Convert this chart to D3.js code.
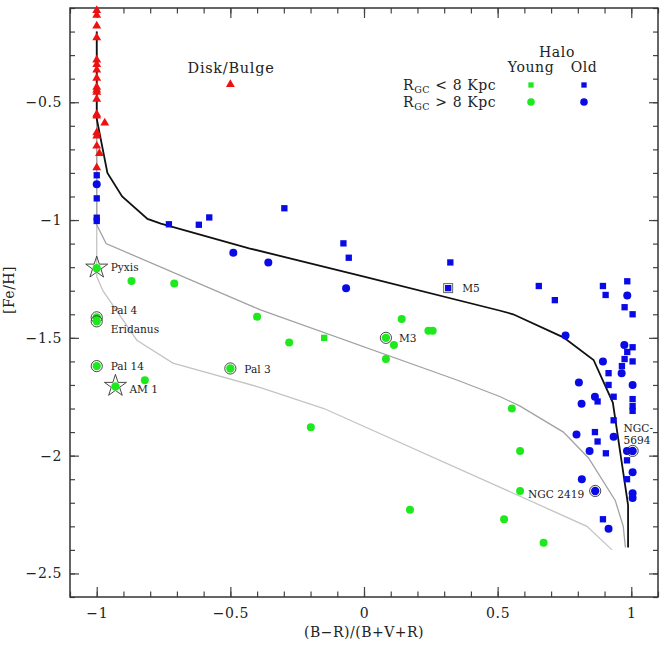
<!DOCTYPE html>
<html>
<head>
<meta charset="utf-8">
<style>
    body { margin: 0; background: #fff; }
    svg text { font-family: "DejaVu Serif", serif; fill: #222; }
    .tick text { font-size: 14px; letter-spacing: 0.6px; }
    .lbl { font-size: 10.6px; }
</style>
<script src="https://d3js.org/d3.v7.min.js"></script>
</head>
<body>
<svg width="666" height="645"></svg>
<script>
// tick values
var xTicks = [-1, -0.5, 0, 0.5, 1];
var yTicks = [-2.5, -2, -1.5, -1, -0.5];

// disk / bulge clusters (red triangles)
var diskBulge = [[-1,-0.11],[-1,-0.13],[-1,-0.176],[-1,-0.226],[-1,-0.32],[-1,-0.34],[-1,-0.363],
    [-1,-0.398],[-1,-0.436],[-1,-0.448],[-1,-0.457],[-1,-0.487],[-1,-0.551],[-1,-0.558],[-0.97,-0.588],
    [-1,-0.629],[-1,-0.643],[-1,-0.686],[-0.99,-0.717],[-1,-0.778],[-0.50,-0.424]];

// old halo, Rgc < 8 kpc (blue squares)
var oldInner = [[-1,-0.81],[-1,-0.908],[-1,-0.99],[-1,-1.004],[-0.73,-1.018],[-0.618,-1.02],[-0.579,-0.989],
    [-0.298,-0.95],[-0.077,-1.099],[-0.057,-1.16],[0.323,-1.18],[0.654,-1.28],[0.714,-1.34],[0.894,-1.28],
    [0.904,-1.318],[0.985,-1.26],[0.975,-1.37],[1.005,-1.40],[1.005,-1.54],[0.985,-1.56],[0.975,-1.59],
    [1.005,-1.60],[0.965,-1.62],[0.915,-1.65],[0.915,-1.70],[0.874,-1.77],[0.934,-1.75],[1.005,-1.76],
    [1.005,-1.79],[1.005,-1.81],[0.934,-1.85],[0.864,-1.90],[0.874,-1.94],[0.905,-1.99],[0.984,-2.02],
    [0.984,-2.10],[0.894,-2.27]];

// old halo, Rgc > 8 kpc (blue circles)
var oldOuter = [[-1,-0.848],[-0.489,-1.139],[-0.358,-1.18],[-0.067,-1.29],[0.985,-1.32],[0.754,-1.49],
    [0.974,-1.53],[0.894,-1.60],[0.964,-1.65],[0.804,-1.69],[1.005,-1.70],[0.864,-1.75],[0.814,-1.78],
    [0.795,-1.91],[0.934,-1.92],[0.844,-1.98],[0.984,-1.98],[1.005,-2.07],[0.815,-2.10],[1.005,-2.16],
    [1.005,-2.18],[0.915,-2.31]];

// young halo, Rgc < 8 kpc (green squares)
var youngInner = [[-0.149,-1.50]];

// young halo, Rgc > 8 kpc (green circles)
var youngOuter = [[-0.87,-1.259],[-0.71,-1.269],[-0.40,-1.41],[-0.82,-1.68],[-0.28,-1.52],[0.141,-1.42],
    [0.112,-1.53],[0.082,-1.59],[0.241,-1.47],[0.257,-1.47],[-0.199,-1.88],[0.553,-1.80],[0.584,-1.98],
    [0.584,-2.15],[0.172,-2.23],[0.524,-2.27],[0.672,-2.37]];

// named clusters
var named = [
    {name: "Pyxis",    x: -1,    y: -1.198, pop: "young", mark: "star"},
    {name: "AM 1",     x: -0.93, y: -1.70,  pop: "young", mark: "star"},
    {name: "Pal 4",    x: -1,    y: -1.413, pop: "young", mark: "ring"},
    {name: "Eridanus", x: -1,    y: -1.43,  pop: "young", mark: "ring"},
    {name: "Pal 14",   x: -1,    y: -1.62,  pop: "young", mark: "ring"},
    {name: "Pal 3",    x: -0.50, y: -1.63,  pop: "young", mark: "ring"},
    {name: "M3",       x: 0.082, y: -1.50,  pop: "young", mark: "ring"},
    {name: "M5",       x: 0.315, y: -1.289, pop: "old",   mark: "box"},
    {name: "NGC 2419", x: 0.865, y: -2.15,  pop: "old",   mark: "ring"},
    {name: "NGC-5694", x: 1.005, y: -1.98,  pop: "old",   mark: "ring"}
];

// model tracks
var blackTrack = [[-1,-0.20],[-1,-0.57],[-0.96,-0.80],[-0.905,-0.90],[-0.81,-0.995],[-0.76,-1.015],
    [-0.43,-1.12],[0,-1.24],[0.51,-1.385],[0.558,-1.40],[0.746,-1.498],[0.859,-1.594],[0.931,-1.775],
    [0.988,-2.21],[0.988,-2.39]];
var grayTrack1 = [[-1,-0.20],[-1,-1.02],[-0.965,-1.10],[-0.39,-1.38],[0.35,-1.68],[0.51,-1.75],
    [0.584,-1.79],[0.746,-1.90],[0.84,-2.01],[0.94,-2.19],[0.97,-2.30],[0.978,-2.39]];
var grayTrack2 = [[-1,-0.20],[-1,-1.24],[-0.977,-1.30],[-0.85,-1.51],[-0.715,-1.607],[-0.39,-1.71],
    [-0.15,-1.80],[0.697,-2.23],[0.834,-2.30],[0.928,-2.40]];

var svg = d3.select("svg");
var mLeft = 70, mRight = 658, mTop = 8, mBottom = 597;

var x = d3.scaleLinear().domain([-1.1, 1.1]).range([mLeft, mRight]);
var y = d3.scaleLinear().domain([-2.6, -0.1]).range([mBottom, mTop]);

var green = "#1de91d", blue = "#0a0ae6", red = "#ee1111";

// axes: major + minor ticks, on all four sides
var minorX = d3.range(-11, 12).map(function(d) { return d / 10; });
var minorY = d3.range(-26, 0).map(function(d) { return d / 10; });
var fmt = d3.format("~g");

function addAxis(axis, tr, noLabels) {
    var g = svg.append("g").attr("transform", tr).call(axis);
    g.select(".domain").remove();
    g.selectAll("line").attr("stroke", "#444").attr("stroke-width", 1.2);
    if (noLabels) g.selectAll("text").remove();
    return g;
}

addAxis(d3.axisBottom(x).tickValues(minorX).tickSize(-5.5).tickFormat(""), "translate(0," + mBottom + ")", true);
addAxis(d3.axisTop(x).tickValues(minorX).tickSize(-5.5).tickFormat(""), "translate(0," + mTop + ")", true);
addAxis(d3.axisLeft(y).tickValues(minorY).tickSize(-5).tickFormat(""), "translate(" + mLeft + ",0)", true);
addAxis(d3.axisRight(y).tickValues(minorY).tickSize(-5).tickFormat(""), "translate(" + mRight + ",0)", true);

addAxis(d3.axisBottom(x).tickValues(xTicks).tickSize(-10).tickPadding(11).tickFormat(fmt), "translate(0," + mBottom + ")");
addAxis(d3.axisTop(x).tickValues(xTicks).tickSize(-10), "translate(0," + mTop + ")", true);
addAxis(d3.axisLeft(y).tickValues(yTicks).tickSize(-9).tickPadding(8).tickFormat(fmt), "translate(" + mLeft + ",0)");
addAxis(d3.axisRight(y).tickValues(yTicks).tickSize(-9), "translate(" + mRight + ",0)", true);

svg.append("rect")
    .attr("x", mLeft).attr("y", mTop)
    .attr("width", mRight - mLeft).attr("height", mBottom - mTop)
    .attr("fill", "none").attr("stroke", "#333").attr("stroke-width", 1.5);

// axis titles
svg.append("text").attr("x", 364).attr("y", 637)
    .attr("text-anchor", "middle").style("font-size", "14px").style("letter-spacing", "0.5px")
    .text("(B\u2212R)/(B+V+R)");
svg.append("text").attr("transform", "translate(14,290) rotate(-90)")
    .attr("text-anchor", "middle").style("font-size", "14px").style("letter-spacing", "0.5px")
    .text("[Fe/H]");

// tracks
var line = d3.line().x(function(d) { return x(d[0]); }).y(function(d) { return y(d[1]); });
svg.append("path").datum(grayTrack2).attr("d", line)
    .attr("fill", "none").attr("stroke", "#c4c4c4").attr("stroke-width", 1.3);
svg.append("path").datum(grayTrack1).attr("d", line)
    .attr("fill", "none").attr("stroke", "#a2a2a2").attr("stroke-width", 1.3);
svg.append("path").datum(blackTrack).attr("d", line)
    .attr("fill", "none").attr("stroke", "#111").attr("stroke-width", 1.8);

function pos(d) { return "translate(" + x(d[0]) + "," + y(d[1]) + ")"; }

var tri = d3.symbol().type(d3.symbolTriangle).size(34);
var sq = d3.symbol().type(d3.symbolSquare).size(40);

svg.append("g").selectAll("path").data(diskBulge).join("path")
    .attr("d", tri).attr("transform", pos).attr("fill", red);

svg.append("g").selectAll("path").data(oldInner).join("path")
    .attr("d", sq).attr("transform", pos).attr("fill", blue);
svg.append("g").selectAll("circle").data(oldOuter).join("circle")
    .attr("cx", function(d) { return x(d[0]); }).attr("cy", function(d) { return y(d[1]); })
    .attr("r", 4).attr("fill", blue);
svg.append("g").selectAll("path").data(youngInner).join("path")
    .attr("d", sq).attr("transform", pos).attr("fill", green);
svg.append("g").selectAll("circle").data(youngOuter).join("circle")
    .attr("cx", function(d) { return x(d[0]); }).attr("cy", function(d) { return y(d[1]); })
    .attr("r", 4).attr("fill", green);

// named clusters with outlined marks
var star = d3.symbol().type(d3.symbolStar).size(150);
named.forEach(function(d) {
    var cx = x(d.x), cy = y(d.y);
    var col = d.pop === "young" ? green : blue;
    if (d.mark === "star") {
        svg.append("path").attr("d", star).attr("transform", "translate(" + cx + "," + (cy + 1) + ")")
            .attr("fill", "none").attr("stroke", "#333").attr("stroke-width", 0.9);
        svg.append("circle").attr("cx", cx).attr("cy", cy + 1.5).attr("r", 4.2).attr("fill", col);
    } else if (d.mark === "ring") {
        svg.append("circle").attr("cx", cx).attr("cy", cy).attr("r", 5.6)
            .attr("fill", "none").attr("stroke", "#333").attr("stroke-width", 0.9);
        svg.append("circle").attr("cx", cx).attr("cy", cy).attr("r", 4.2).attr("fill", col);
    } else {
        svg.append("rect").attr("x", cx - 4.5).attr("y", cy - 4.5).attr("width", 9).attr("height", 9)
            .attr("fill", "none").attr("stroke", "#555").attr("stroke-width", 0.9);
        svg.append("path").attr("d", sq).attr("transform", "translate(" + cx + "," + cy + ")").attr("fill", col);
    }
});

// label placement relative to each named mark (px)
var labelOffset = {
    "Pyxis": [14, 0], "AM 1": [14, 4], "Pal 4": [14, -7], "Eridanus": [14, 8],
    "Pal 14": [14, 0], "Pal 3": [14, 1], "M3": [13, 0], "M5": [14, 0], "NGC 2419": [-11, 3]
};
named.forEach(function(d) {
    var cx = x(d.x), cy = y(d.y);
    if (d.name === "NGC-5694") {
        svg.append("text").attr("class", "lbl").attr("x", cx - 9).attr("y", cy - 23)
            .attr("dominant-baseline", "central").text("NGC-");
        svg.append("text").attr("class", "lbl").attr("x", cx - 9).attr("y", cy - 11)
            .attr("dominant-baseline", "central").text("5694");
        return;
    }
    var o = labelOffset[d.name];
    svg.append("text").attr("class", "lbl")
        .attr("x", cx + o[0]).attr("y", cy + o[1])
        .attr("dominant-baseline", "central")
        .attr("text-anchor", o[0] < 0 ? "end" : "start")
        .text(d.name);
});

// Disk/Bulge label
svg.append("text").attr("x", 231).attr("y", 68).attr("text-anchor", "middle")
    .attr("dominant-baseline", "central").style("font-size", "14.5px").style("letter-spacing", "0.7px")
    .text("Disk/Bulge");

// legend
var lg = svg.append("g").style("font-size", "14px").style("letter-spacing", "0.6px");
lg.append("text").attr("x", 557).attr("y", 52).attr("text-anchor", "middle")
    .attr("dominant-baseline", "central").text("Halo");
lg.append("text").attr("x", 531).attr("y", 67).attr("text-anchor", "middle")
    .attr("dominant-baseline", "central").text("Young");
lg.append("text").attr("x", 584).attr("y", 67).attr("text-anchor", "middle")
    .attr("dominant-baseline", "central").text("Old");
[["<", 85], [">", 102]].forEach(function(r) {
    var t = lg.append("text").attr("x", 403).attr("y", r[1] + 5);
    t.append("tspan").text("R");
    t.append("tspan").attr("dy", 3).style("font-size", "9.5px").text("GC");
    t.append("tspan").attr("dy", -3).text(" " + r[0] + " 8 Kpc");
});
var lsq = d3.symbol().type(d3.symbolSquare).size(28);
lg.append("path").attr("d", lsq).attr("transform", "translate(531,85)").attr("fill", green);
lg.append("path").attr("d", lsq).attr("transform", "translate(584,85)").attr("fill", blue);
lg.append("circle").attr("cx", 531).attr("cy", 102).attr("r", 3.8).attr("fill", green);
lg.append("circle").attr("cx", 584).attr("cy", 102).attr("r", 3.8).attr("fill", blue);
</script>
</body>
</html>
